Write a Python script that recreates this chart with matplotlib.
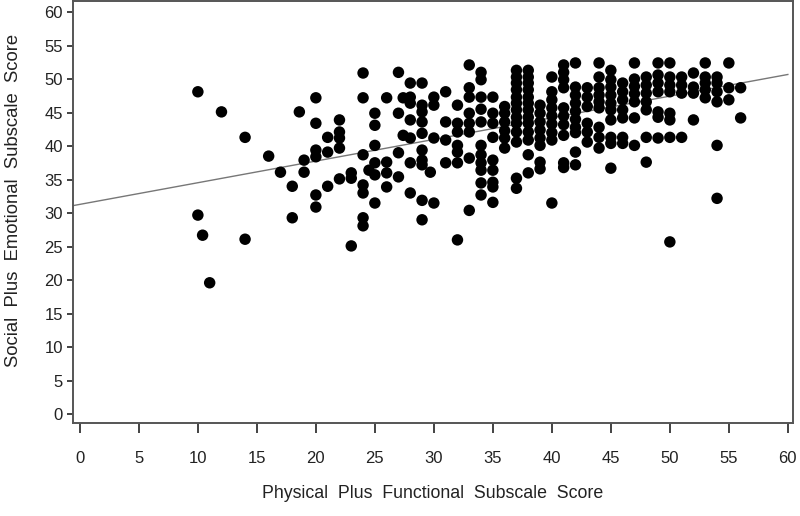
import matplotlib.pyplot as plt
import numpy as np

plt.rcParams['font.family'] = ['Liberation Sans', 'DejaVu Sans']

# Physical plus functional score (x) and social plus emotional score (y), read column by column
phys = [10, 10, 10.4, 11, 12, 14, 14, 16, 17, 18, 18, 18.6, 19, 19,
        20, 20, 20, 20, 20, 20,
        21, 21, 21,
        22, 22, 22, 22, 22,
        23, 23, 23,
        24, 24, 24, 24, 24, 24, 24, 24.5,
        25, 25, 25, 25, 25, 25,
        26, 26, 26, 26,
        27, 27, 27, 27, 27.4, 27.4,
        28, 28, 28, 28, 28, 28, 28,
        29, 29, 29, 29, 29, 29, 29, 29, 29, 29, 29.7,
        30, 30, 30, 30,
        31, 31, 31, 31,
        32, 32, 32, 32, 32, 32, 32,
        33, 33, 33, 33, 33, 33, 33, 33,
        34, 34, 34, 34, 34, 34, 34, 34, 34, 34, 34,
        35, 35, 35, 35, 35, 35, 35, 35, 35,
        36, 36, 36, 36, 36, 36,
        37, 37, 37, 37, 37, 37, 37, 37, 37, 37, 37, 37, 37,
        38, 38, 38, 38, 38, 38, 38, 38, 38, 38, 38, 38, 38,
        39, 39, 39, 39, 39, 39, 39, 39,
        40, 40, 40, 40, 40, 40, 40, 40, 40,
        41, 41, 41, 41, 41, 41, 41, 41, 41, 41,
        42, 42, 42, 42, 42, 42, 42, 42, 42, 42,
        43, 43, 43, 43, 43, 43,
        44, 44, 44, 44, 44, 44, 44, 44, 44,
        45, 45, 45, 45, 45, 45, 45, 45, 45, 45,
        46, 46, 46, 46, 46, 46, 46,
        47, 47, 47, 47, 47, 47, 47,
        48, 48, 48, 48, 48, 48, 48,
        49, 49, 49, 49, 49, 49, 49,
        50, 50, 50, 50, 50, 50, 50, 50,
        51, 51, 51, 51,
        52, 52, 52, 52,
        53, 53, 53, 53, 53,
        54, 54, 54, 54, 54, 54,
        55, 55, 55,
        56, 56]
socemo = [48.1, 29.7, 26.7, 19.6, 45.1, 41.3, 26.1, 38.5, 36.1, 34.0, 29.3, 45.1, 37.9, 36.1,
          47.2, 43.4, 39.4, 38.4, 32.7, 30.9,
          41.3, 39.1, 34.0,
          43.9, 42.1, 41.2, 39.7, 35.1,
          36.0, 35.2, 25.1,
          50.9, 47.2, 38.7, 34.2, 33.0, 29.3, 28.1, 36.4,
          44.9, 43.1, 40.1, 37.5, 35.7, 31.5,
          47.2, 37.6, 36.0, 33.9,
          51.0, 44.9, 39.0, 35.4, 47.2, 41.6,
          49.4, 47.3, 46.4, 43.9, 41.2, 37.5, 33.0,
          49.4, 46.1, 45.1, 43.6, 41.9, 39.4, 37.9, 37.2, 31.9, 29.0, 36.1,
          47.3, 46.1, 41.2, 31.5,
          48.1, 43.6, 40.9, 37.5,
          46.1, 43.4, 42.1, 40.1, 39.1, 37.5, 26.0,
          52.1, 48.7, 47.3, 44.9, 43.4, 42.1, 38.2, 30.4,
          51.0, 49.9, 47.3, 45.5, 43.6, 40.1, 38.7, 37.5, 36.4, 34.5, 32.7,
          47.3, 44.9, 43.4, 41.3, 37.9, 36.4, 34.6, 33.9, 31.6,
          44.9, 43.6, 42.3, 41.2, 39.7, 45.9,
          51.3, 50.3, 49.4, 48.4, 47.3, 46.4, 45.4, 44.3, 43.4, 42.1, 40.6, 35.2, 33.7,
          51.3, 50.3, 49.4, 48.4, 47.3, 46.4, 45.4, 44.3, 43.4, 42.1, 40.9, 38.7, 36.0,
          46.1, 44.9, 43.6, 42.4, 41.2, 40.1, 37.6, 36.6,
          50.3, 48.1, 46.9, 45.7, 44.5, 43.3, 42.0, 40.9, 31.5,
          52.1, 51.0, 49.9, 48.7, 45.7, 44.5, 43.2, 41.6, 37.5, 36.8,
          52.4, 48.8, 47.6, 46.4, 45.2, 44.0, 42.8, 42.0, 39.1, 37.2,
          48.7, 47.3, 45.9, 43.4, 42.1, 40.6,
          52.4, 50.3, 48.7, 47.6, 46.6, 45.7, 42.8, 41.3, 39.7,
          51.3, 49.9, 48.8, 47.6, 46.4, 45.4, 43.9, 41.3, 40.4, 36.7,
          49.4, 48.1, 46.9, 45.4, 41.3, 40.4, 44.2,
          52.4, 50.0, 48.9, 47.8, 46.6, 44.2, 40.1,
          50.3, 49.1, 47.9, 46.6, 45.4, 41.3, 37.6,
          52.4, 50.6, 49.4, 48.1, 45.1, 44.3, 41.2,
          52.4, 50.3, 49.1, 48.1, 44.9, 43.9, 41.3, 25.7,
          50.3, 49.1, 47.9, 41.3,
          50.9, 48.8, 47.9, 43.9,
          52.4, 50.3, 49.4, 48.4, 47.2,
          50.3, 49.4, 48.1, 46.6, 40.1, 32.2,
          52.4, 48.7, 46.9,
          48.7, 44.2]

# fitted line
intercept = 31.3
slope = 0.323
x_ticks = list(range(0, 61, 5))
y_ticks = list(range(0, 61, 5))

fig = plt.figure(figsize=(8, 5.16), dpi=100)
ax = fig.add_axes([0.091, 0.180, 0.900, 0.818])

ax.scatter(phys, socemo, s=68, c='black', edgecolors='none', zorder=3)
xl = np.array([-0.6, 60.0])
ax.plot(xl, intercept + slope * xl, color='#777777', lw=1.0, zorder=2)

ax.set_xlim(-0.6, 60.42)
ax.set_ylim(-1.34, 61.64)
ax.set_xticks(x_ticks)
ax.set_yticks(y_ticks)
ax.tick_params(axis='x', direction='out', length=7, width=1.2, pad=13,
               labelsize=12, colors='#222222')
ax.tick_params(axis='y', direction='out', length=4, width=1.2, pad=3,
               labelsize=12, colors='#222222')
for sp in ax.spines.values():
    sp.set_color('#555555')
    sp.set_linewidth(1.4)

ax.set_xlabel('Physical  Plus  Functional  Subscale  Score', fontsize=12.8,
              color='#222222', labelpad=14)
ax.set_ylabel('Social  Plus  Emotional  Subscale  Score', fontsize=13.3,
              color='#222222')
ax.yaxis.set_label_coords(-0.071, 0.527)

fig.savefig('out.png', dpi=100)
